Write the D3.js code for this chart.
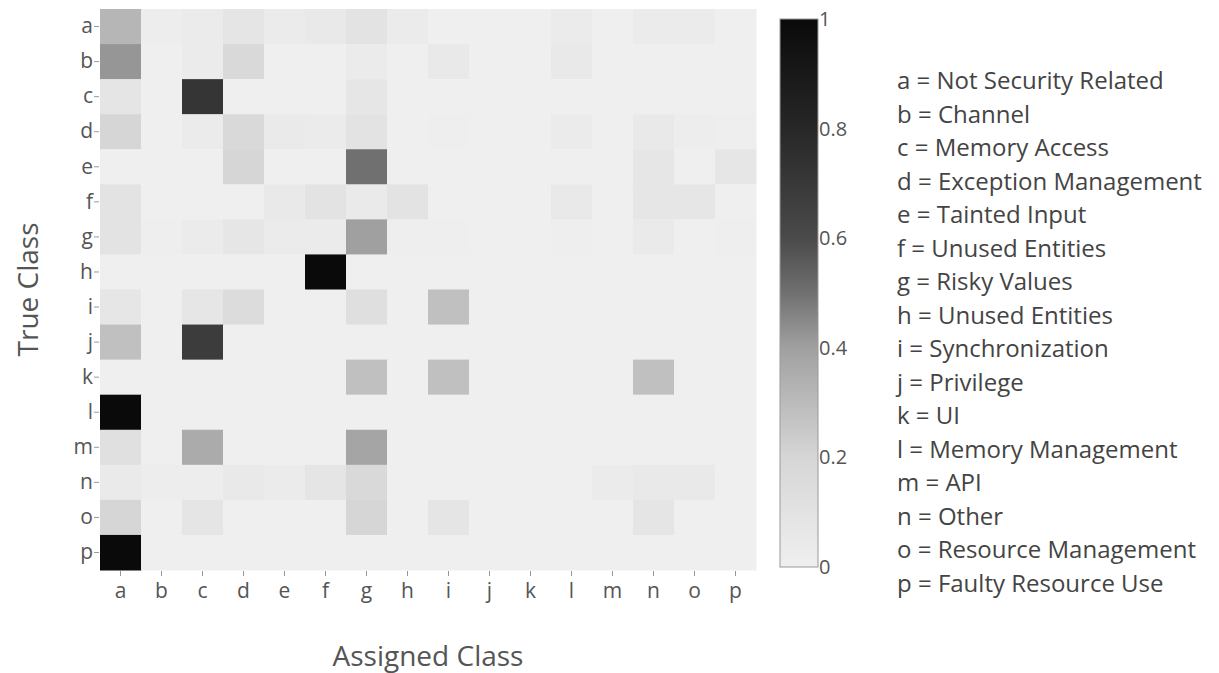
<!DOCTYPE html>
<html lang="en">
<head>
    <meta charset="UTF-8">
    <title>Confusion Matrix</title>
    <script src="https://d3js.org/d3.v7.min.js"></script>
    <style>
        body {
            margin: 0;
            background: #ffffff;
        }
        .tick text {
            font-family: "Open Sans", sans-serif;
            font-size: 21px;
            fill: #555;
        }
        .title {
            font-family: "Open Sans", sans-serif;
            font-size: 28px;
            fill: #555;
        }
        .legend {
            font-family: "Open Sans", sans-serif;
            font-size: 24px;
            fill: #444;
        }
    </style>
</head>
<body>
    <svg width="1219" height="673"></svg>
    <script>
        let classes = ["a", "b", "c", "d", "e", "f", "g", "h", "i", "j", "k", "l", "m", "n", "o", "p"];

        let classNames = [
            "Not Security Related", "Channel", "Memory Access", "Exception Management",
            "Tainted Input", "Unused Entities", "Risky Values", "Unused Entities",
            "Synchronization", "Privilege", "UI", "Memory Management",
            "API", "Other", "Resource Management", "Faulty Resource Use"
        ];

        // rows = true class, columns = assigned class
        let matrix = [
            [0.32, 0.02, 0.03, 0.08, 0.03, 0.05, 0.10, 0.03, 0, 0, 0, 0.03, 0, 0.03, 0.03, 0],
            [0.42, 0, 0.03, 0.18, 0, 0, 0.03, 0, 0.05, 0, 0, 0.05, 0, 0, 0, 0],
            [0.08, 0, 0.72, 0, 0, 0, 0.07, 0, 0, 0, 0, 0, 0, 0, 0, 0],
            [0.20, 0, 0.03, 0.18, 0.04, 0.03, 0.10, 0, 0.01, 0, 0, 0.03, 0, 0.05, 0.02, 0.01],
            [0, 0, 0, 0.20, 0, 0, 0.50, 0, 0, 0, 0, 0, 0, 0.07, 0, 0.07],
            [0.10, 0, 0, 0, 0.05, 0.10, 0.04, 0.10, 0, 0, 0, 0.05, 0, 0.07, 0.07, 0],
            [0.10, 0.01, 0.03, 0.07, 0.03, 0.03, 0.40, 0.01, 0.01, 0, 0, 0.01, 0, 0.04, 0, 0.01],
            [0, 0, 0, 0, 0, 1.0, 0, 0, 0, 0, 0, 0, 0, 0, 0, 0],
            [0.07, 0, 0.07, 0.15, 0, 0, 0.13, 0, 0.28, 0, 0, 0, 0, 0, 0, 0],
            [0.28, 0, 0.68, 0, 0, 0, 0, 0, 0, 0, 0, 0, 0, 0, 0, 0],
            [0, 0, 0, 0, 0, 0, 0.28, 0, 0.28, 0, 0, 0, 0, 0.28, 0, 0],
            [1.0, 0, 0, 0, 0, 0, 0, 0, 0, 0, 0, 0, 0, 0, 0, 0],
            [0.12, 0, 0.36, 0, 0, 0, 0.38, 0, 0, 0, 0, 0, 0, 0, 0, 0],
            [0.04, 0.02, 0.02, 0.05, 0.03, 0.08, 0.18, 0, 0, 0, 0, 0, 0.03, 0.05, 0.05, 0],
            [0.20, 0, 0.08, 0, 0, 0, 0.20, 0, 0.08, 0, 0, 0, 0, 0.08, 0, 0],
            [1.0, 0, 0, 0, 0, 0, 0, 0, 0, 0, 0, 0, 0, 0, 0, 0]
        ];

        let colorStops = [0, 0.2, 0.4, 0.5, 0.6, 0.8, 1];
        let colorValues = ["#efefef", "#d6d6d6", "#a0a0a0", "#707070", "#4a4a4a", "#272727", "#0a0a0a"];
        let barTicks = [0, 0.2, 0.4, 0.6, 0.8, 1];

        let svg = d3.select("svg");
        let margin = { left: 100, top: 9, right: 756, bottom: 570 };

        let x = d3.scaleBand().domain(classes).range([margin.left, margin.right]);
        let y = d3.scaleBand().domain(classes).range([margin.top, margin.bottom]);
        let color = d3.scaleLinear().domain(colorStops).range(colorValues).clamp(true);

        let cells = [];
        matrix.forEach((row, i) => {
            row.forEach((v, j) => {
                cells.push({ row: classes[i], col: classes[j], value: v });
            });
        });

        svg.append("g")
            .selectAll("rect")
            .data(cells)
            .enter().append("rect")
            .attr("x", d => x(d.col))
            .attr("y", d => y(d.row))
            .attr("width", x.bandwidth() + 0.5)
            .attr("height", y.bandwidth() + 0.5)
            .attr("fill", d => color(d.value));

        // axes
        let xAxis = svg.append("g")
            .attr("transform", `translate(0,${margin.bottom + 1})`)
            .call(d3.axisBottom(x).tickSize(5).tickPadding(7));
        let yAxis = svg.append("g")
            .attr("transform", `translate(${margin.left - 1},0)`)
            .call(d3.axisLeft(y).tickSize(5).tickPadding(1));
        [xAxis, yAxis].forEach(ax => {
            ax.select(".domain").remove();
            ax.selectAll(".tick line").attr("stroke", "#999");
        });

        svg.append("text")
            .attr("class", "title")
            .attr("x", (margin.left + margin.right) / 2)
            .attr("y", 666)
            .attr("text-anchor", "middle")
            .text("Assigned Class");

        svg.append("text")
            .attr("class", "title")
            .attr("transform", `translate(38,${(margin.top + margin.bottom) / 2}) rotate(-90)`)
            .attr("text-anchor", "middle")
            .text("True Class");

        // colour bar
        let barX = 780, barW = 38, barTop = 19, barBottom = 567;
        let barScale = d3.scaleLinear().domain([0, 1]).range([barBottom, barTop]);

        let grad = svg.append("defs").append("linearGradient")
            .attr("id", "barGrad")
            .attr("x1", 0).attr("y1", 1).attr("x2", 0).attr("y2", 0);
        colorStops.forEach((s, i) => {
            grad.append("stop")
                .attr("offset", s)
                .attr("stop-color", colorValues[i]);
        });

        svg.append("rect")
            .attr("x", barX)
            .attr("y", barTop)
            .attr("width", barW)
            .attr("height", barBottom - barTop)
            .attr("fill", "url(#barGrad)")
            .attr("stroke", "#999")
            .attr("stroke-width", 1);

        let barAxis = svg.append("g")
            .attr("transform", `translate(${barX + barW},0)`)
            .call(d3.axisRight(barScale).tickValues(barTicks).tickFormat(d3.format("~g")).tickSize(0).tickPadding(1));
        barAxis.select(".domain").remove();
        barAxis.selectAll(".tick text").style("font-size", "20px");

        // class legend
        svg.append("g")
            .selectAll("text")
            .data(classes)
            .enter().append("text")
            .attr("class", "legend")
            .attr("x", 897)
            .attr("y", (d, i) => 89 + i * 33.5)
            .text((d, i) => `${d} = ${classNames[i]}`);
    </script>
</body>
</html>
